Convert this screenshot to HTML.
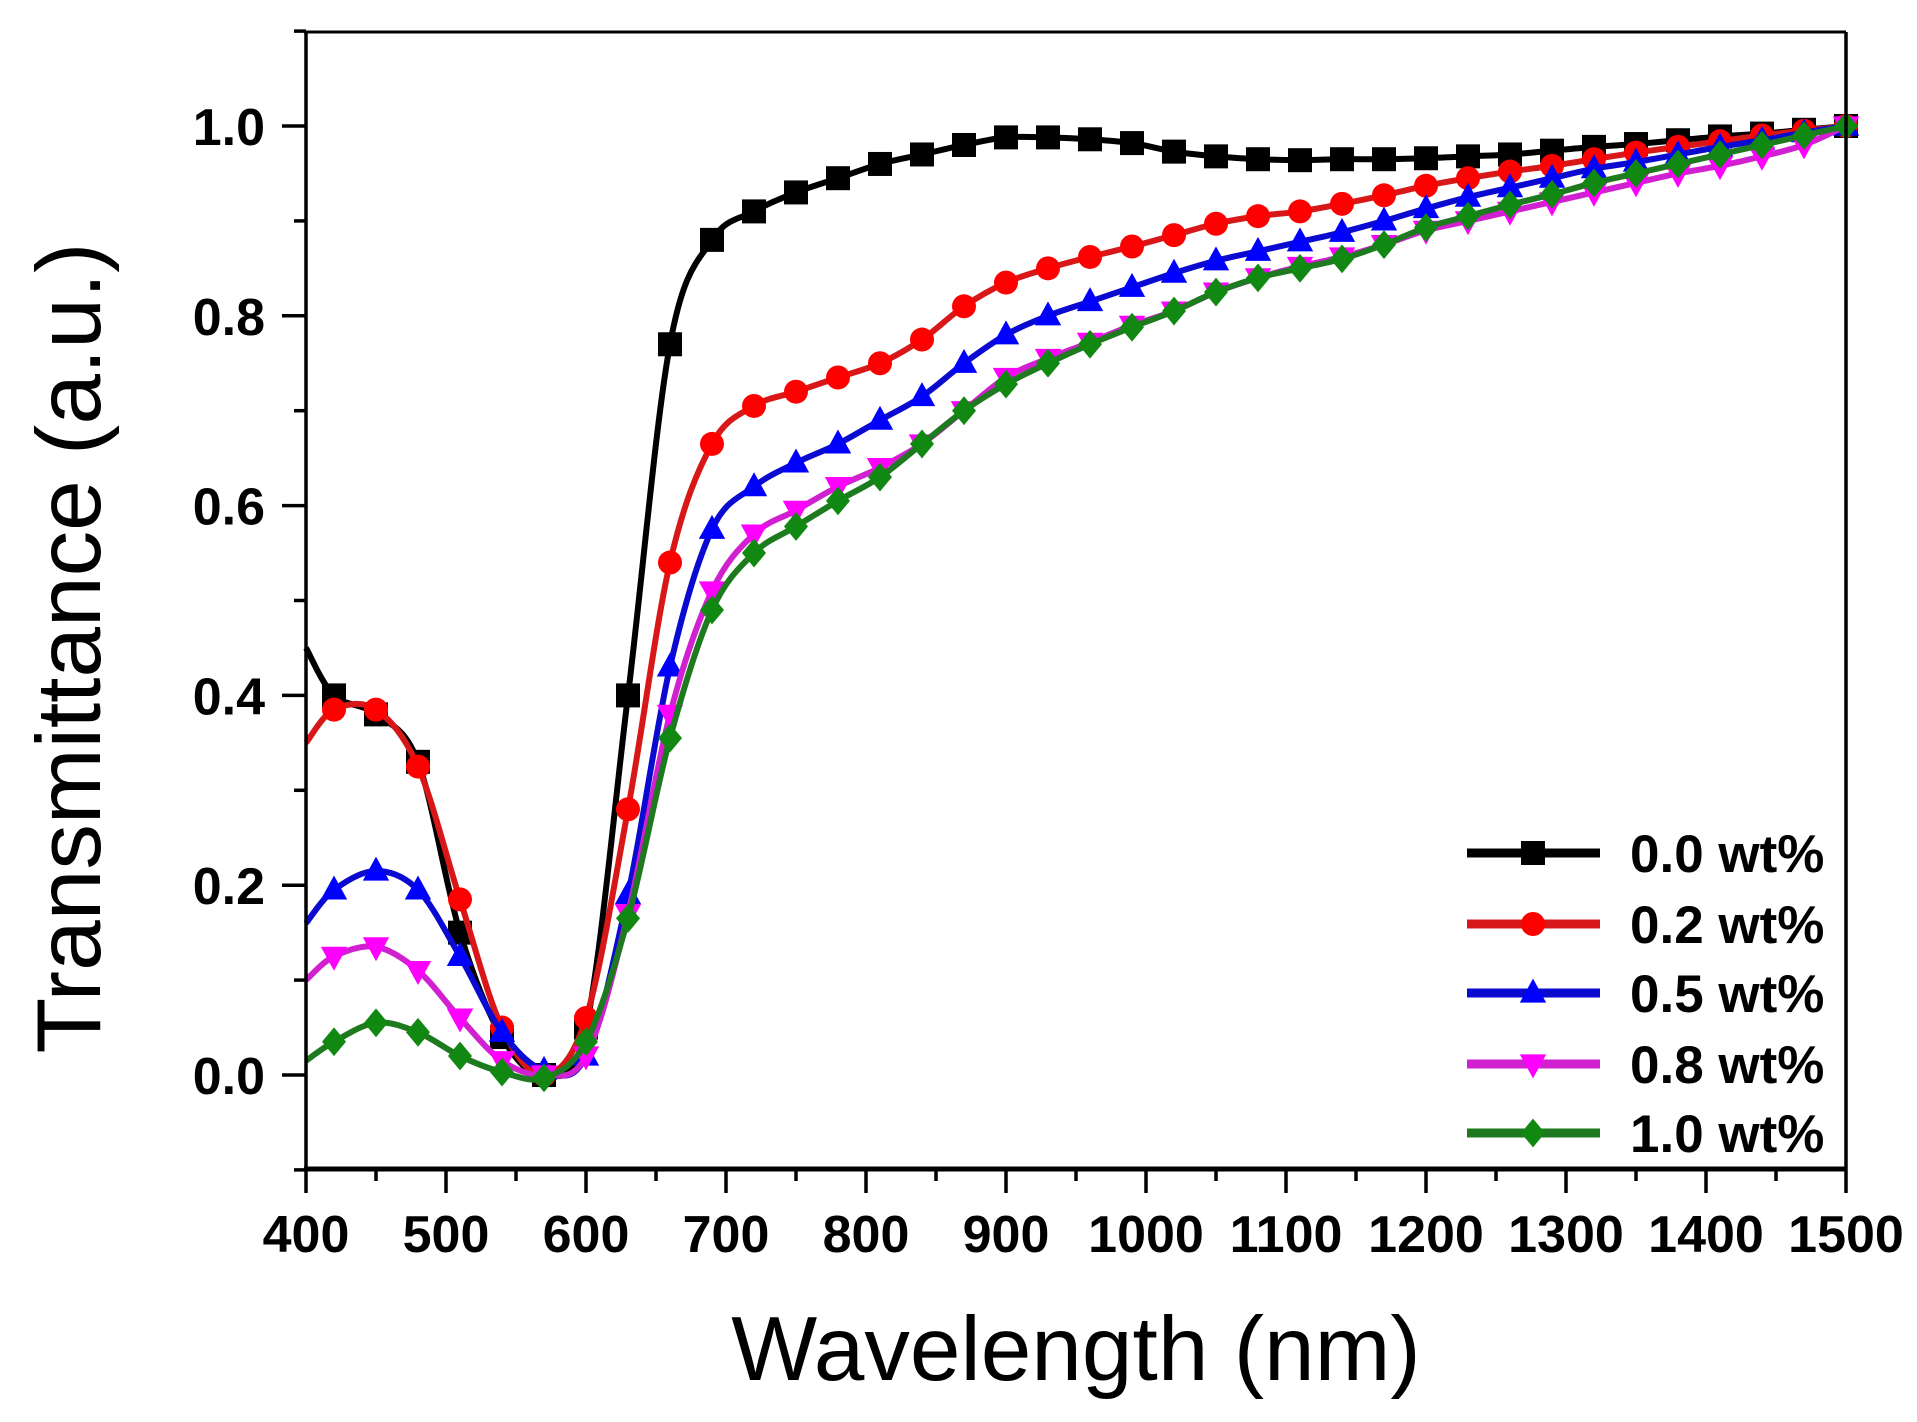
<!DOCTYPE html>
<html><head><meta charset="utf-8"><style>
html,body{margin:0;padding:0;background:#fff;}
svg{display:block;}
text{font-family:"Liberation Sans",Arial,sans-serif;}
</style></head><body>
<svg id="c" width="1917" height="1422" viewBox="0 0 1917 1422" xmlns="http://www.w3.org/2000/svg">
<rect width="1917" height="1422" fill="#fff"/>
<g id="plot"></g>
<g id="axes" stroke="#000" fill="none">
<line x1="306" y1="32" x2="306" y2="1169" stroke-width="3.5"/>
<line x1="304" y1="1169" x2="1846" y2="1169" stroke-width="5"/>
<line x1="1846" y1="32" x2="1846" y2="1169" stroke-width="3.5"/>
<line x1="304" y1="32" x2="1846" y2="32" stroke-width="3"/>
</g>
<g id="ticks" stroke="#000" stroke-width="3.5"></g>
<g id="labels" font-weight="bold" font-size="52" fill="#000"></g>
<text x="1076" y="1380" font-size="91" text-anchor="middle" fill="#000">Wavelength (nm)</text>
<text transform="translate(100,648) rotate(-90)" font-size="91" text-anchor="middle" fill="#000">Transmittance (a.u.)</text>
<g id="legend"></g>
</svg>
<script>
const NS="http://www.w3.org/2000/svg";
const X=w=>306+1.4*(w-400), Y=v=>1075-949*v;
function el(t,a,p){const e=document.createElementNS(NS,t);for(const k in a)e.setAttribute(k,a[k]);if(p)p.appendChild(e);return e;}
const ticks=document.getElementById('ticks'),labels=document.getElementById('labels');
for(let w=400;w<=1500;w+=50){const maj=w%100==0;el('line',{x1:X(w),x2:X(w),y1:1169,y2:maj?1193:1181},ticks);
 if(maj){const t=el('text',{x:X(w),y:1252,'text-anchor':'middle'},labels);t.textContent=w;}}
for(let v=-0.1;v<=1.101;v+=0.1){const vv=Math.round(v*10)/10;const maj=Math.round(vv*10)%2==0;el('line',{x1:306,x2:maj?282:294,y1:Y(vv),y2:Y(vv)},ticks);
 if(maj&&vv>=0){const t=el('text',{x:265,y:Y(vv)+19,'text-anchor':'end'},labels);t.textContent=vv.toFixed(1);}}
const W=[400];for(let w=420;w<=1470;w+=30)W.push(w);W.push(1500);
const S=[
{c:'#000',m:'#000',k:'sq',d:[0.45,0.40,0.38,0.33,0.15,0.04,0.0,0.05,0.40,0.77,0.88,0.91,0.93,0.945,0.96,0.97,0.98,0.988,0.988,0.986,0.982,0.973,0.968,0.965,0.964,0.965,0.965,0.966,0.968,0.97,0.974,0.978,0.981,0.985,0.989,0.992,0.996,1.0]},
{c:'#d81818',m:'#ff0000',k:'ci',d:[0.35,0.385,0.385,0.325,0.185,0.05,0.0,0.06,0.28,0.54,0.665,0.705,0.72,0.735,0.75,0.775,0.81,0.835,0.85,0.862,0.873,0.885,0.897,0.905,0.91,0.918,0.927,0.937,0.945,0.952,0.958,0.965,0.972,0.978,0.984,0.99,0.995,1.0]},
{c:'#0a0ad0',m:'#0000ff',k:'tu',d:[0.16,0.195,0.215,0.195,0.125,0.045,0.005,0.02,0.19,0.43,0.575,0.62,0.645,0.665,0.69,0.715,0.75,0.78,0.8,0.815,0.83,0.845,0.858,0.868,0.878,0.888,0.9,0.913,0.925,0.935,0.945,0.955,0.962,0.97,0.978,0.985,0.993,1.0]},
{c:'#d020d0',m:'#ff00ff',k:'td',d:[0.1,0.125,0.135,0.11,0.06,0.015,0.0,0.02,0.17,0.38,0.51,0.57,0.595,0.62,0.64,0.665,0.7,0.735,0.755,0.772,0.79,0.805,0.825,0.84,0.852,0.862,0.875,0.89,0.9,0.91,0.92,0.93,0.94,0.95,0.958,0.968,0.98,1.0]},
{c:'#1e7a1e',m:'#118811',k:'di',d:[0.015,0.035,0.055,0.045,0.02,0.003,-0.003,0.035,0.165,0.355,0.49,0.55,0.578,0.605,0.63,0.665,0.7,0.728,0.75,0.77,0.788,0.805,0.825,0.84,0.85,0.86,0.875,0.893,0.905,0.917,0.928,0.94,0.95,0.96,0.97,0.98,0.99,1.0]}];
function marker(k,x,y,f,p,s){s=s||11;
 if(k=='sq')el('rect',{x:x-s,y:y-s,width:2*s,height:2*s,fill:f},p);
 else if(k=='ci')el('circle',{cx:x,cy:y,r:s,fill:f},p);
 else if(k=='tu')el('polygon',{points:`${x},${y-s*1.2} ${x+s*1.1},${y+s*0.8} ${x-s*1.1},${y+s*0.8}`,fill:f},p);
 else if(k=='td')el('polygon',{points:`${x},${y+s*1.2} ${x+s*1.1},${y-s*0.8} ${x-s*1.1},${y-s*0.8}`,fill:f},p);
 else el('polygon',{points:`${x},${y-s*1.2} ${x+s},${y} ${x},${y+s*1.2} ${x-s},${y}`,fill:f},p);}
const plot=document.getElementById('plot');
S.forEach(s=>{const P=W.map((w,i)=>[X(w),Y(s.d[i])]);let d=`M${P[0][0]},${P[0][1]}`;
 for(let i=0;i<P.length-1;i++){const p0=P[Math.max(0,i-1)],p1=P[i],p2=P[i+1],p3=P[Math.min(P.length-1,i+2)];
  d+=` C${p1[0]+(p2[0]-p0[0])/6},${p1[1]+(p2[1]-p0[1])/6} ${p2[0]-(p3[0]-p1[0])/6},${p2[1]-(p3[1]-p1[1])/6} ${p2[0]},${p2[1]}`;}
 el('path',{d:d,stroke:s.c,'stroke-width':6,fill:'none','stroke-linejoin':'round'},plot);
 const g=el('g',{},plot);P.forEach((p,i)=>{if(i>0)marker(s.k,p[0],p[1],s.m,g,12);});});
const lg=document.getElementById('legend');const names=['0.0 wt%','0.2 wt%','0.5 wt%','0.8 wt%','1.0 wt%'];const ly=[853,924,993,1064,1133];
S.forEach((s,i)=>{el('line',{x1:1467,x2:1600,y1:ly[i],y2:ly[i],stroke:s.c,'stroke-width':9},lg);marker(s.k,1533,ly[i],s.m,lg,12);
 const t=el('text',{x:1630,y:ly[i]+19,'font-size':53,'font-weight':'bold',fill:'#000'},lg);t.textContent=names[i];});
</script>
</body></html>
